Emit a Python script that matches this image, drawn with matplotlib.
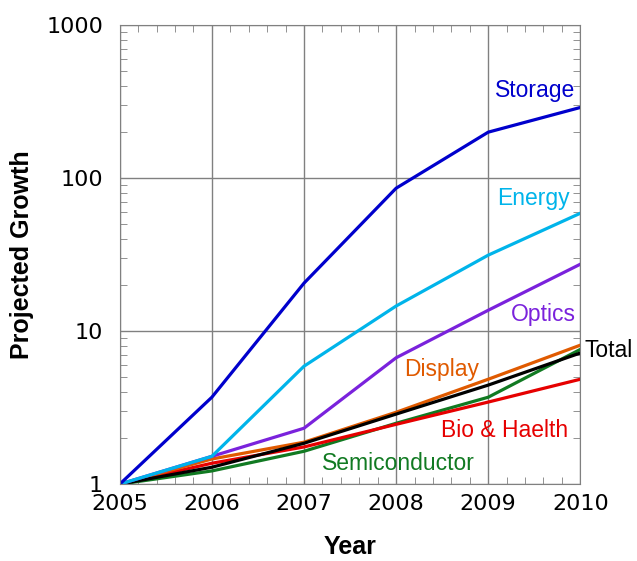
import matplotlib
matplotlib.use("Agg")
import matplotlib.pyplot as plt
from matplotlib.ticker import LogLocator, NullFormatter, FixedLocator

plt.rcParams["font.family"] = ["Liberation Sans", "DejaVu Sans"]

years = [2005, 2006, 2007, 2008, 2009, 2010]

storage = [1, 3.7, 20.6, 86, 200, 290]
energy = [1, 1.52, 5.9, 14.6, 31.4, 59]
optics = [1, 1.52, 2.32, 6.7, 13.7, 27.4]
display = [1, 1.46, 1.88, 2.95, 4.85, 8.1]
bio = [1, 1.37, 1.75, 2.46, 3.44, 4.85]
semi = [1, 1.22, 1.64, 2.5, 3.7, 7.6]
total = [1, 1.29, 1.85, 2.87, 4.44, 7.2]

fig = plt.figure(figsize=(6.37, 5.61), dpi=100)
ax = fig.add_axes([0.188, 0.137, 0.723, 0.818])

lw = 2.3
ax.plot(years, semi, color="#117a22", lw=lw)
ax.plot(years, bio, color="#e60000", lw=lw)
ax.plot(years, display, color="#e05a00", lw=lw)
ax.plot(years, total, color="black", lw=lw)
ax.plot(years, optics, color="#7a22dc", lw=lw)
ax.plot(years, energy, color="#00b4ea", lw=lw)
ax.plot(years, storage, color="#0000cc", lw=lw)

ax.set_yscale("log")
ax.set_xlim(2005, 2010)
ax.set_ylim(1, 1000)
ax.set_yticks([1, 10, 100, 1000])
ax.set_yticklabels(["1", "10", "100", "1000"])
ax.yaxis.set_minor_locator(LogLocator(base=10, subs=range(2, 10)))
ax.yaxis.set_minor_formatter(NullFormatter())
ax.set_xticks(years)
ax.xaxis.set_minor_locator(FixedLocator([y + f for y in years[:-1] for f in (0.2, 0.4, 0.6, 0.8)]))

for lab in ax.get_xticklabels() + ax.get_yticklabels():
    lab.set_family("DejaVu Sans")

ax.grid(True, which="major", color="#808080", lw=1.0)
for s in ax.spines.values():
    s.set_color("#808080")
ax.tick_params(which="both", direction="in", top=True, right=True, color="#808080")
ax.tick_params(which="major", length=0, labelsize=16)
ax.tick_params(axis="y", which="major", pad=12)
ax.tick_params(axis="x", which="major", pad=7)
ax.tick_params(which="minor", length=5)

ax.set_xlabel("Year", fontsize=18, fontweight="bold", labelpad=15)
ax.set_ylabel("Projected Growth", fontsize=18, fontweight="bold", labelpad=9)

fs = 16.5
ax.text(2009.51, 376, "Storage", color="#0000cc", fontsize=fs, ha="center", va="center")
ax.text(2009.49, 74, "Energy", color="#00b4ea", fontsize=fs, ha="center", va="center")
ax.text(2009.6, 12.9, "Optics", color="#7a22dc", fontsize=fs, ha="center", va="center")
ax.text(2008.49, 5.65, "Display", color="#e05a00", fontsize=fs, ha="center", va="center")
ax.text(2010.05, 7.5, "Total", color="black", fontsize=fs, ha="left", va="center")
ax.text(2009.18, 2.25, "Bio & Haelth", color="#e60000", fontsize=fs, ha="center", va="center")
ax.text(2008.03, 1.37, "Semiconductor", color="#117a22", fontsize=fs, ha="center", va="center")

fig.savefig("out.png", dpi=100)
